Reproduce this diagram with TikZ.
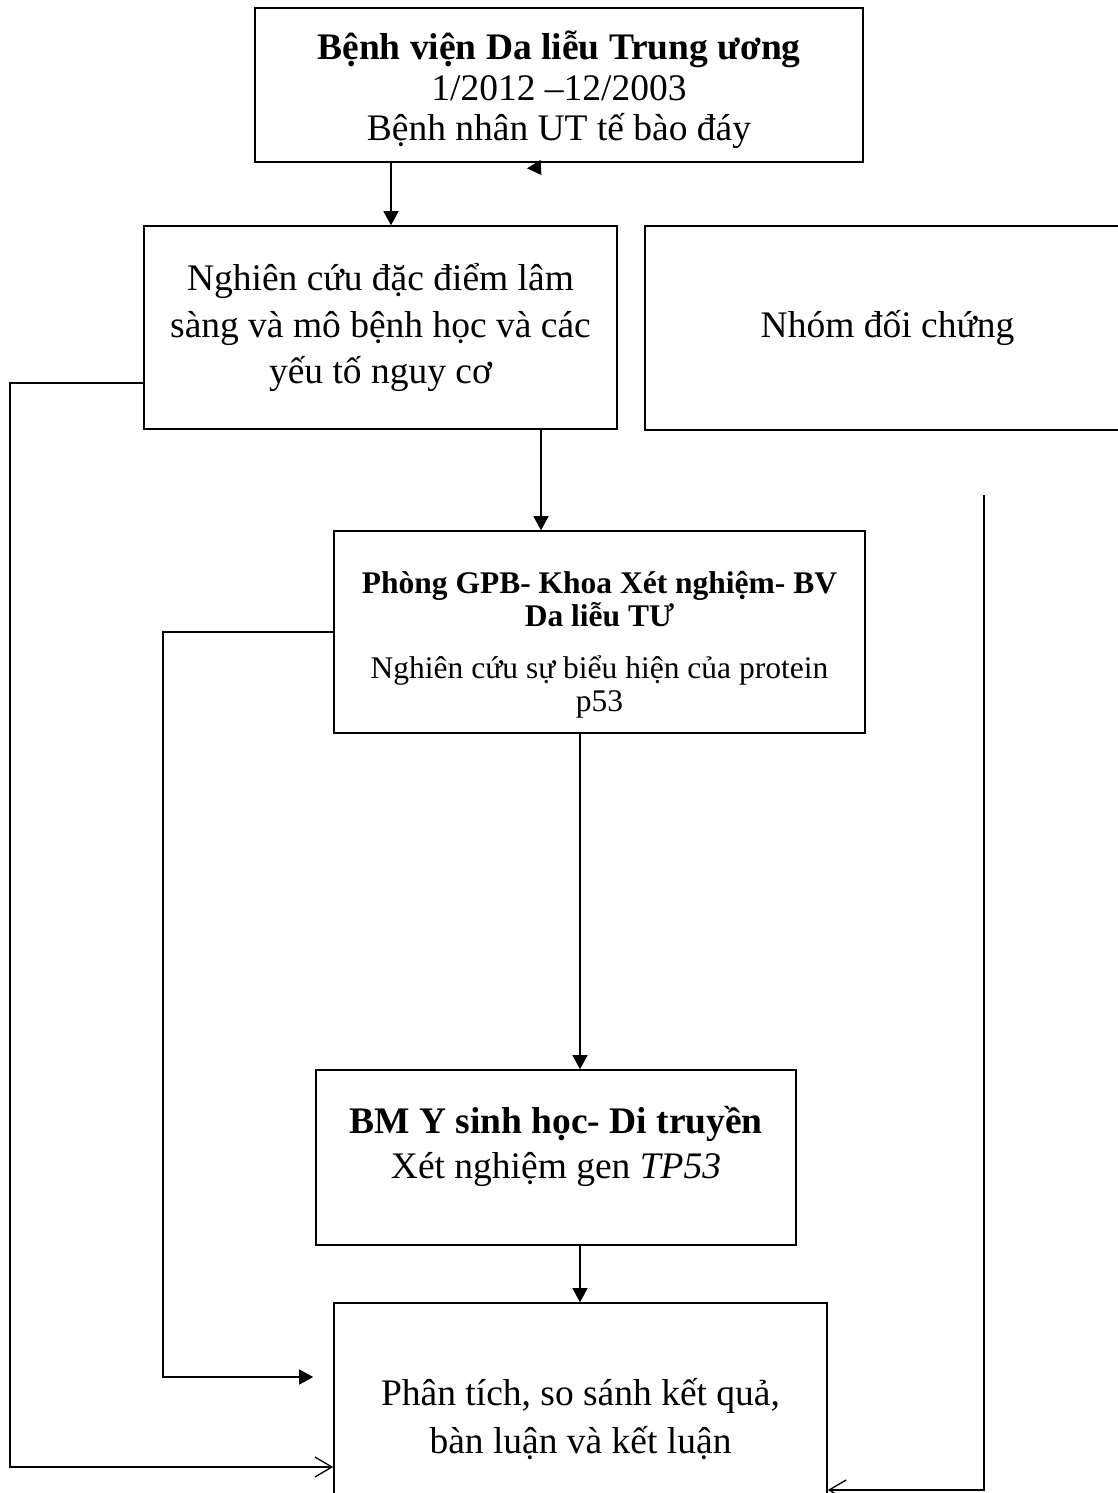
\documentclass[tikz,border=0pt]{standalone}
\usepackage{fontspec}
\setmainfont{Liberation Serif}
\usetikzlibrary{arrows.meta}

\begin{document}
\begin{tikzpicture}[x=1pt,y=-1pt,line width=1.3pt]
          \tikzstyle{box}=[draw=black,line width=1.6pt,align=center,inner sep=0pt]
          \tikzstyle{arr}=[-{Triangle[length=14pt,width=15pt]}]
          \tikzstyle{barb}=[-{Straight Barb[length=17pt,width=20pt]}]
          \useasboundingbox (0,0) rectangle (1117,1493);

          \node[box,minimum width=608pt,minimum height=154pt,
                font=\fontsize{37.5}{40.5}\selectfont] (A) at (559,85)
                {\rule{0pt}{39pt}\textbf{Bệnh viện Da liễu Trung ương}\\ 1/2012 –12/2003\\ Bệnh nhân UT tế bào đáy};
          \node[box,minimum width=473pt,minimum height=203pt,
                font=\fontsize{37.5}{46.5}\selectfont] (B) at (380.5,327.5)
                {Nghiên cứu đặc điểm lâm\\ sàng và mô bệnh học và các\\ yếu tố nguy cơ};
          \node[box,minimum width=485pt,minimum height=204pt,
                font=\fontsize{37.5}{46.5}\selectfont] (C) at (887.5,328)
                {Nhóm đối chứng};
          \node[box,minimum width=531pt,minimum height=202pt,
                font=\fontsize{31.5}{33}\selectfont] (D) at (599.5,632)
                {\rule{0pt}{48pt}\textbf{Phòng GPB- Khoa Xét nghiệm- BV}\\ \textbf{Da liễu TƯ}\\[19pt]
                 Nghiên cứu sự biểu hiện của protein\\ p53};
          \node[box,minimum width=480pt,minimum height=175pt,text depth=30pt,
                font=\fontsize{37.5}{45}\selectfont] (E) at (556,1157.5)
                {\textbf{BM Y sinh học- Di truyền}\\ Xét nghiệm gen \textit{TP53}};
          \node[box,minimum width=493pt,minimum height=232pt,
                font=\fontsize{37.5}{48}\selectfont] (F) at (580.5,1419)
                {Phân tích, so sánh kết quả,\\ bàn luận và kết luận};

          \coordinate (xa) at (391,0);
          \coordinate (xb) at (541,0);
          \coordinate (xc) at (580,0);
          \coordinate (tip) at (541,167.5);
          \coordinate (P1) at (10,383);
          \coordinate (P2) at (10,1467);
          \coordinate (Q2) at (163,1377);
          \coordinate (R1) at (984,495);
          \coordinate (R2) at (984,1490);

          \draw[arr] (A.south -| xa) -- (B.north -| xa);
          \draw[arr] (tip) -- ++(-14,0.8);
          \draw[arr] (B.south -| xb) -- (D.north -| xb);
          \draw[arr] (D.south -| xc) -- (E.north -| xc);
          \draw[arr] (E.south -| xc) -- (F.north -| xc);
          \draw[barb] (B.west |- P1) -- (P1) -- (P2) -- (F.west |- P2);
          \draw[arr,shorten >=20pt] (D.west) -| (Q2) -- (F.west |- Q2);
          \draw[barb] (R1) -- (R2) -- (F.east |- R2);

        \end{tikzpicture}
\end{document}
